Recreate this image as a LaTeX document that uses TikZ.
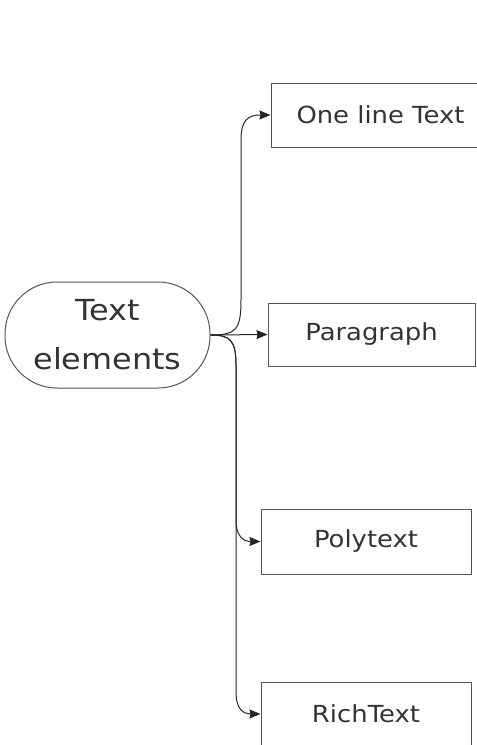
\documentclass[tikz,border=0pt]{standalone}
\usepackage{fontspec}
\newfontfamily\hand[FakeStretch=1.1]{DejaVu Sans}
\usetikzlibrary{arrows.meta}
\definecolor{ink}{HTML}{333333}
\definecolor{edge}{HTML}{555555}
\tikzset{
  box/.style={draw=edge, line width=1pt, text=ink, font=\hand\fontsize{23.5}{28}\selectfont, inner sep=0pt},
  topic/.style={draw=edge, line width=1pt, text=ink, rounded corners=52pt, align=center,
     font=\hand\fontsize{29}{49}\selectfont, minimum width=205pt, minimum height=106pt, inner sep=0pt},
  link/.style={draw=black!85, line width=1pt, -{Stealth[length=11pt,width=9pt,inset=1pt]}}
}
\begin{document}
\begin{tikzpicture}[x=1pt,y=-1pt]
\useasboundingbox (0,0) rectangle (477,745);
\clip (0,0) rectangle (477,745);
\node[topic] (e) at (107.5,335) {Text\\elements};
\node[box, minimum width=219pt, minimum height=64pt] (one) at (380.5,115) {One line Text};
\node[box, minimum width=207pt, minimum height=63pt] (par) at (371.5,334.5) {Paragraph};
\node[box, minimum width=210pt, minimum height=65pt] (poly) at (366,541.5) {Polytext};
\node[box, minimum width=210pt, minimum height=64pt] (rich) at (366,714) {RichText};
\draw[link] (e.east) .. controls (236,335) and (241,330) .. (241,300) -- (241,140)
   .. controls (241,120) and (248,115) .. (one.west);
\draw[link] (e.east) -- (par.west);
\draw[link] (e.east) .. controls (230,335) and (236,340) .. (236,365) -- (236,520)
   .. controls (236,537) and (244,541.5) .. (poly.west);
\draw[link] (e.east) .. controls (230,335) and (236,340) .. (236,365) -- (236,692)
   .. controls (236,710) and (244,714) .. (rich.west);
\end{tikzpicture}
\end{document}
